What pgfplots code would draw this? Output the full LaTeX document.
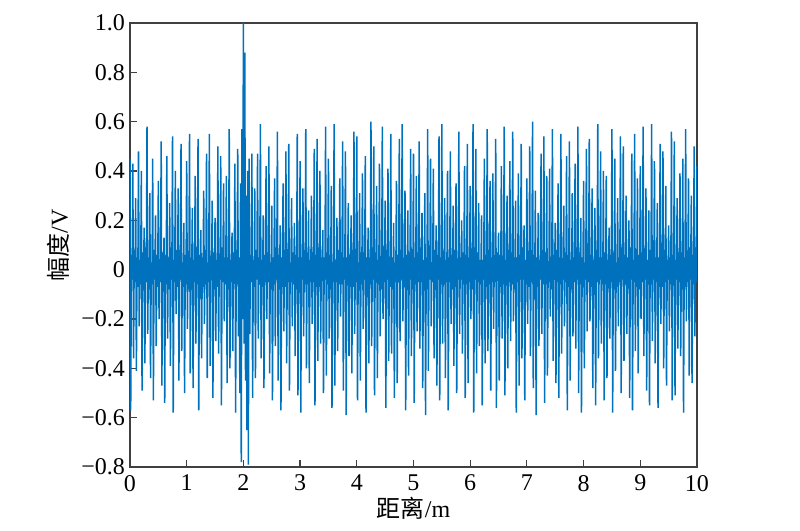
\documentclass[border=0pt]{standalone}
\usepackage{pgfplots}
\pgfplotsset{compat=1.18}
\usepackage{fontspec}
\setmainfont{Liberation Serif}
\newfontfamily\cjk{Noto Sans CJK SC}
\definecolor{mblue}{RGB}{0,114,189}
\definecolor{axgray}{RGB}{64,64,64}
\begin{document}
\begin{tikzpicture}
\useasboundingbox (-65pt,-32pt) rectangle (335pt,233.5pt);
\begin{axis}[
  at={(0,0)}, anchor=south west,
  scale only axis, width=283.5pt, height=222pt,
  xmin=0, xmax=10, ymin=-0.8, ymax=1.0,
  xtick={0,1,2,3,4,5,6,7,8,9,10},
  xticklabels={0,1,2,3,4,5,6,7,8,9,10},
  ytick={-0.8,-0.6,-0.4,-0.2,0,0.2,0.4,0.6,0.8,1.0},
  yticklabels={−0.8,−0.6,−0.4,−0.2,0,0.2,0.4,0.6,0.8,1.0},
  tick align=inside, xtick pos=bottom, ytick pos=left,
  major tick length=3.5pt,
  axis line style={draw=axgray, line width=0.6pt},
  tick style={draw=axgray, line width=0.6pt},
  ticklabel style={font=\fontsize{12}{14}\selectfont},
  yticklabel style={xshift=1pt},
  xticklabel style={yshift=-0.5pt},
  xlabel={{\cjk 距离}/m},
  ylabel={{\cjk 幅度}/V},
  label style={font=\fontsize{12}{14}\selectfont},
  xlabel style={yshift=4pt},
  ylabel style={yshift=-1pt},
]
\addplot[mblue, line width=0.75pt] table[x expr=\coordindex*0.0125, y=y, row sep=\\] {
y\\
0.45\\ -0.57\\ 0.06\\ -0.04\\ 0.43\\ -0.36\\ 0.08\\ -0.05\\
0.29\\ -0.41\\ 0.05\\ -0.07\\ 0.48\\ -0.23\\ 0.04\\ -0.06\\
0.40\\ -0.49\\ 0.07\\ -0.03\\ 0.17\\ -0.38\\ 0.09\\ -0.05\\
0.58\\ -0.26\\ 0.05\\ -0.08\\ 0.31\\ -0.44\\ 0.03\\ -0.06\\
0.45\\ -0.53\\ 0.08\\ -0.04\\ 0.22\\ -0.31\\ 0.06\\ -0.07\\
0.36\\ -0.20\\ 0.04\\ -0.05\\ 0.52\\ -0.47\\ 0.07\\ -0.03\\
0.13\\ -0.54\\ 0.06\\ -0.06\\ 0.46\\ -0.28\\ 0.05\\ -0.08\\
0.27\\ -0.39\\ 0.09\\ -0.04\\ 0.54\\ -0.58\\ 0.04\\ -0.05\\
0.40\\ -0.18\\ 0.05\\ -0.07\\ 0.33\\ -0.45\\ 0.08\\ -0.04\\
0.51\\ -0.33\\ 0.03\\ -0.05\\ 0.19\\ -0.50\\ 0.06\\ -0.06\\
0.44\\ -0.24\\ 0.07\\ -0.08\\ 0.55\\ -0.42\\ 0.05\\ -0.03\\
0.25\\ -0.48\\ 0.04\\ -0.05\\ 0.38\\ -0.30\\ 0.09\\ -0.06\\
0.53\\ -0.57\\ 0.06\\ -0.04\\ 0.16\\ -0.36\\ 0.05\\ -0.07\\
0.32\\ -0.22\\ 0.08\\ -0.06\\ 0.47\\ -0.44\\ 0.03\\ -0.05\\
0.55\\ -0.39\\ 0.05\\ -0.03\\ 0.28\\ -0.52\\ 0.07\\ -0.08\\
0.21\\ -0.29\\ 0.04\\ -0.07\\ 0.50\\ -0.34\\ 0.06\\ -0.04\\
0.46\\ -0.55\\ 0.09\\ -0.05\\ 0.35\\ -0.21\\ 0.05\\ -0.06\\
0.38\\ -0.46\\ 0.05\\ -0.08\\ 0.57\\ -0.40\\ 0.04\\ -0.05\\
0.15\\ -0.33\\ 0.07\\ -0.04\\ 0.43\\ -0.58\\ 0.08\\ -0.06\\
0.49\\ -0.27\\ 0.05\\ -0.50\\ 0.35\\ -0.78\\ 0.57\\ -0.20\\
1.00\\ -0.30\\ 0.88\\ -0.45\\ 0.30\\ -0.65\\ 0.40\\ -0.79\\
0.45\\ -0.26\\ 0.06\\ -0.05\\ 0.47\\ -0.52\\ 0.04\\ -0.07\\
0.33\\ -0.44\\ 0.08\\ -0.04\\ 0.47\\ -0.28\\ 0.05\\ -0.06\\
0.59\\ -0.36\\ 0.04\\ -0.07\\ 0.22\\ -0.48\\ 0.06\\ -0.05\\
0.42\\ -0.20\\ 0.07\\ -0.05\\ 0.50\\ -0.42\\ 0.03\\ -0.08\\
0.26\\ -0.53\\ 0.05\\ -0.06\\ 0.37\\ -0.31\\ 0.09\\ -0.04\\
0.56\\ -0.45\\ 0.06\\ -0.04\\ 0.18\\ -0.57\\ 0.05\\ -0.07\\
0.35\\ -0.25\\ 0.08\\ -0.07\\ 0.48\\ -0.38\\ 0.04\\ -0.05\\
0.51\\ -0.49\\ 0.03\\ -0.05\\ 0.29\\ -0.23\\ 0.07\\ -0.06\\
0.19\\ -0.35\\ 0.06\\ -0.08\\ 0.55\\ -0.51\\ 0.05\\ -0.04\\
0.44\\ -0.58\\ 0.05\\ -0.04\\ 0.33\\ -0.27\\ 0.08\\ -0.06\\
0.57\\ -0.40\\ 0.07\\ -0.06\\ 0.24\\ -0.46\\ 0.04\\ -0.05\\
0.30\\ -0.22\\ 0.04\\ -0.05\\ 0.49\\ -0.55\\ 0.06\\ -0.07\\
0.53\\ -0.37\\ 0.09\\ -0.07\\ 0.40\\ -0.30\\ 0.05\\ -0.04\\
0.16\\ -0.50\\ 0.05\\ -0.04\\ 0.58\\ -0.43\\ 0.07\\ -0.06\\
0.45\\ -0.28\\ 0.06\\ -0.08\\ 0.34\\ -0.56\\ 0.03\\ -0.05\\
0.59\\ -0.47\\ 0.04\\ -0.05\\ 0.21\\ -0.33\\ 0.08\\ -0.06\\
0.37\\ -0.19\\ 0.07\\ -0.06\\ 0.52\\ -0.49\\ 0.05\\ -0.04\\
0.48\\ -0.59\\ 0.05\\ -0.04\\ 0.27\\ -0.35\\ 0.06\\ -0.07\\
0.22\\ -0.42\\ 0.08\\ -0.07\\ 0.56\\ -0.26\\ 0.04\\ -0.05\\
0.54\\ -0.53\\ 0.03\\ -0.05\\ 0.31\\ -0.45\\ 0.07\\ -0.06\\
0.39\\ -0.24\\ 0.06\\ -0.04\\ 0.46\\ -0.58\\ 0.05\\ -0.08\\
0.17\\ -0.38\\ 0.05\\ -0.06\\ 0.60\\ -0.31\\ 0.09\\ -0.04\\
0.50\\ -0.51\\ 0.07\\ -0.05\\ 0.34\\ -0.44\\ 0.04\\ -0.06\\
0.43\\ -0.27\\ 0.04\\ -0.08\\ 0.58\\ -0.20\\ 0.06\\ -0.05\\
0.28\\ -0.56\\ 0.08\\ -0.04\\ 0.41\\ -0.37\\ 0.05\\ -0.07\\
0.55\\ -0.34\\ 0.05\\ -0.06\\ 0.19\\ -0.52\\ 0.03\\ -0.05\\
0.36\\ -0.46\\ 0.06\\ -0.05\\ 0.53\\ -0.29\\ 0.08\\ -0.04\\
0.59\\ -0.21\\ 0.04\\ -0.07\\ 0.32\\ -0.57\\ 0.06\\ -0.06\\
0.24\\ -0.43\\ 0.07\\ -0.04\\ 0.49\\ -0.35\\ 0.05\\ -0.08\\
0.47\\ -0.54\\ 0.05\\ -0.06\\ 0.38\\ -0.25\\ 0.07\\ -0.05\\
0.52\\ -0.32\\ 0.09\\ -0.05\\ 0.23\\ -0.48\\ 0.04\\ -0.06\\
0.31\\ -0.59\\ 0.05\\ -0.08\\ 0.57\\ -0.41\\ 0.06\\ -0.04\\
0.45\\ -0.23\\ 0.03\\ -0.05\\ 0.41\\ -0.36\\ 0.08\\ -0.07\\
0.18\\ -0.47\\ 0.06\\ -0.04\\ 0.54\\ -0.53\\ 0.05\\ -0.06\\
0.59\\ -0.30\\ 0.07\\ -0.06\\ 0.29\\ -0.44\\ 0.04\\ -0.05\\
0.40\\ -0.57\\ 0.05\\ -0.05\\ 0.48\\ -0.22\\ 0.06\\ -0.08\\
0.26\\ -0.39\\ 0.08\\ -0.07\\ 0.35\\ -0.50\\ 0.03\\ -0.04\\
0.56\\ -0.26\\ 0.04\\ -0.04\\ 0.20\\ -0.34\\ 0.07\\ -0.06\\
0.42\\ -0.52\\ 0.06\\ -0.06\\ 0.51\\ -0.46\\ 0.05\\ -0.05\\
0.34\\ -0.20\\ 0.05\\ -0.08\\ 0.59\\ -0.58\\ 0.09\\ -0.04\\
0.49\\ -0.42\\ 0.07\\ -0.05\\ 0.27\\ -0.31\\ 0.04\\ -0.06\\
0.22\\ -0.55\\ 0.04\\ -0.04\\ 0.45\\ -0.38\\ 0.06\\ -0.07\\
0.57\\ -0.33\\ 0.08\\ -0.06\\ 0.36\\ -0.49\\ 0.05\\ -0.05\\
0.39\\ -0.24\\ 0.05\\ -0.05\\ 0.53\\ -0.56\\ 0.07\\ -0.04\\
0.15\\ -0.45\\ 0.06\\ -0.07\\ 0.42\\ -0.28\\ 0.03\\ -0.06\\
0.58\\ -0.51\\ 0.04\\ -0.04\\ 0.30\\ -0.40\\ 0.08\\ -0.05\\
0.44\\ -0.29\\ 0.07\\ -0.06\\ 0.56\\ -0.21\\ 0.05\\ -0.08\\
0.28\\ -0.58\\ 0.05\\ -0.05\\ 0.39\\ -0.47\\ 0.06\\ -0.04\\
0.51\\ -0.36\\ 0.09\\ -0.04\\ 0.18\\ -0.53\\ 0.04\\ -0.06\\
0.37\\ -0.22\\ 0.05\\ -0.07\\ 0.50\\ -0.35\\ 0.07\\ -0.05\\
0.60\\ -0.48\\ 0.06\\ -0.05\\ 0.32\\ -0.59\\ 0.05\\ -0.07\\
0.23\\ -0.31\\ 0.04\\ -0.04\\ 0.47\\ -0.26\\ 0.08\\ -0.06\\
0.54\\ -0.54\\ 0.07\\ -0.06\\ 0.38\\ -0.43\\ 0.03\\ -0.05\\
0.41\\ -0.19\\ 0.05\\ -0.08\\ 0.57\\ -0.37\\ 0.06\\ -0.04\\
0.19\\ -0.46\\ 0.08\\ -0.05\\ 0.35\\ -0.52\\ 0.05\\ -0.06\\
0.55\\ -0.34\\ 0.04\\ -0.04\\ 0.26\\ -0.23\\ 0.07\\ -0.05\\
0.46\\ -0.57\\ 0.06\\ -0.07\\ 0.52\\ -0.45\\ 0.04\\ -0.08\\
0.31\\ -0.27\\ 0.05\\ -0.05\\ 0.43\\ -0.32\\ 0.09\\ -0.04\\
0.58\\ -0.50\\ 0.07\\ -0.06\\ 0.21\\ -0.58\\ 0.05\\ -0.06\\
0.36\\ -0.40\\ 0.03\\ -0.04\\ 0.49\\ -0.25\\ 0.06\\ -0.05\\
0.53\\ -0.21\\ 0.06\\ -0.07\\ 0.33\\ -0.48\\ 0.04\\ -0.07\\
0.25\\ -0.55\\ 0.08\\ -0.05\\ 0.59\\ -0.36\\ 0.05\\ -0.04\\
0.48\\ -0.30\\ 0.05\\ -0.06\\ 0.40\\ -0.53\\ 0.07\\ -0.06\\
0.38\\ -0.44\\ 0.04\\ -0.04\\ 0.17\\ -0.28\\ 0.06\\ -0.05\\
0.57\\ -0.58\\ 0.07\\ -0.08\\ 0.45\\ -0.41\\ 0.03\\ -0.07\\
0.29\\ -0.23\\ 0.05\\ -0.05\\ 0.54\\ -0.50\\ 0.08\\ -0.04\\
0.50\\ -0.37\\ 0.06\\ -0.06\\ 0.30\\ -0.26\\ 0.05\\ -0.06\\
0.20\\ -0.52\\ 0.09\\ -0.04\\ 0.47\\ -0.57\\ 0.04\\ -0.05\\
0.55\\ -0.33\\ 0.05\\ -0.07\\ 0.37\\ -0.42\\ 0.06\\ -0.08\\
0.42\\ -0.20\\ 0.07\\ -0.05\\ 0.58\\ -0.35\\ 0.05\\ -0.04\\
0.33\\ -0.49\\ 0.04\\ -0.06\\ 0.24\\ -0.55\\ 0.08\\ -0.06\\
0.59\\ -0.29\\ 0.06\\ -0.04\\ 0.44\\ -0.38\\ 0.05\\ -0.05\\
0.27\\ -0.56\\ 0.05\\ -0.07\\ 0.51\\ -0.22\\ 0.07\\ -0.07\\
0.48\\ -0.40\\ 0.08\\ -0.05\\ 0.34\\ -0.47\\ 0.04\\ -0.04\\
0.18\\ -0.25\\ 0.05\\ -0.06\\ 0.56\\ -0.53\\ 0.06\\ -0.06\\
0.52\\ -0.51\\ 0.04\\ -0.04\\ 0.29\\ -0.32\\ 0.07\\ -0.05\\
0.39\\ -0.35\\ 0.07\\ -0.08\\ 0.45\\ -0.58\\ 0.05\\ -0.07\\
0.57\\ -0.21\\ 0.05\\ -0.05\\ 0.37\\ -0.43\\ 0.09\\ -0.04\\
0.30\\ -0.46\\ 0.06\\ -0.06\\ 0.50\\ -0.27\\ 0.04\\ -0.05\\
0.42\\
};
\end{axis}
\end{tikzpicture}
\end{document}
